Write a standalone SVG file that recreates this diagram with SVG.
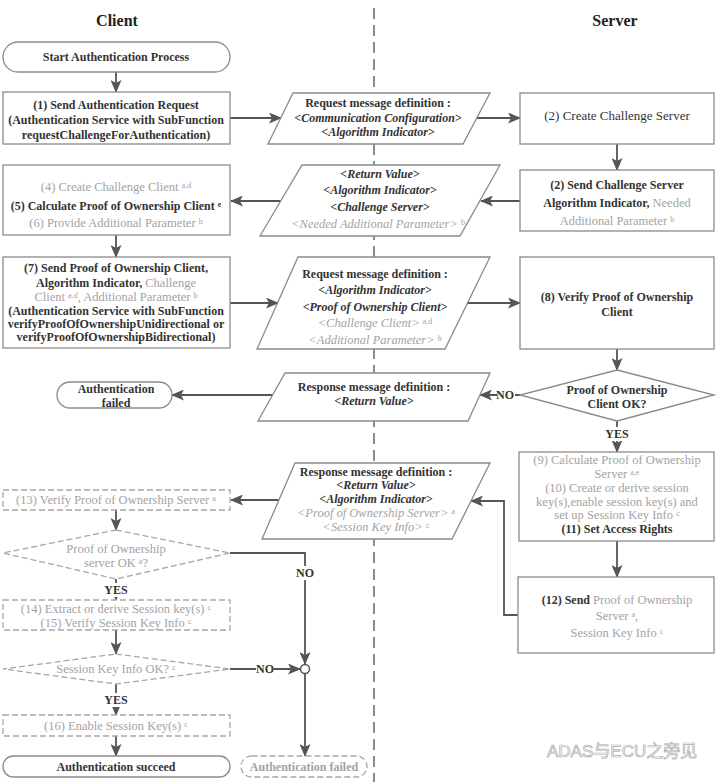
<svg xmlns="http://www.w3.org/2000/svg" width="720" height="782" viewBox="0 0 720 782">
<style>
.t{font-family:"Liberation Serif","DejaVu Serif",serif;font-size:12px;fill:#333;font-weight:bold;text-anchor:middle}
.h{font-size:16px;fill:#222}
.g{fill:#a3a3a3;font-weight:normal;font-size:12.5px}
.gb{fill:#a3a3a3}
.it{font-style:italic}
.n{font-weight:normal;font-size:13px}
.sup{font-size:8px;baseline-shift:3px}
.box{fill:#fff;stroke:#8a8a8a;stroke-width:1.3}
.dbox{fill:#fff;stroke:#a8a8a8;stroke-width:1.3;stroke-dasharray:6 3}
.c{fill:none;stroke:#555;stroke-width:1.8}
.a{marker-end:url(#ah)}
.bg{fill:#fff}
</style>
<defs>
<marker id="ah" markerUnits="userSpaceOnUse" markerWidth="13" markerHeight="11" refX="12" refY="5.5" orient="auto">
<path d="M0,0 L13,5.5 L0,11 L3,5.5 Z" fill="#555"/>
</marker>
</defs>
<rect width="720" height="782" fill="#fff"/>
<text class="t h" x="117" y="26">Client</text>
<text class="t h" x="615" y="26">Server</text>
<line x1="374" y1="8" x2="374" y2="782" stroke="#666" stroke-width="1.5" stroke-dasharray="11 6"/>

<g id="connectors">
<line class="c a" x1="116" y1="72" x2="116" y2="92"/>
<line class="c a" x1="230" y1="118" x2="281" y2="118"/>
<line class="c a" x1="477" y1="118" x2="520" y2="118"/>
<line class="c a" x1="617" y1="144" x2="617" y2="170"/>
<line class="c a" x1="520" y1="201" x2="481" y2="201"/>
<line class="c a" x1="281" y1="201" x2="231" y2="201"/>
<line class="c a" x1="116" y1="235" x2="116" y2="257"/>
<line class="c a" x1="230" y1="303" x2="278" y2="303"/>
<line class="c a" x1="467" y1="303" x2="520" y2="303"/>
<line class="c a" x1="617" y1="349" x2="617" y2="370"/>
<line class="c a" x1="520" y1="395" x2="480" y2="395"/>
<line class="c a" x1="273" y1="395" x2="172" y2="395"/>
<line class="c a" x1="617" y1="421" x2="617" y2="452"/>
<line class="c a" x1="617" y1="541" x2="617" y2="577"/>
<path class="c a" d="M518,615 H504 V501 H471"/>
<line class="c a" x1="279" y1="500" x2="231" y2="500"/>
<line class="c a" x1="116" y1="510" x2="116" y2="530"/>
<path class="c a" d="M230,553 H305 V664"/>
<line class="c a" x1="116" y1="579" x2="116" y2="600"/>
<line class="c a" x1="116" y1="630" x2="116" y2="654"/>
<line class="c a" x1="230" y1="669" x2="300" y2="669"/>
<line class="c a" x1="116" y1="684" x2="116" y2="715"/>
<line class="c a" x1="116" y1="736" x2="116" y2="756"/>
<line class="c a" x1="305" y1="674" x2="305" y2="756"/>
<circle cx="305" cy="669" r="4.5" fill="#fff" stroke="#555" stroke-width="1.5"/>
<rect class="bg" x="497" y="388" width="18" height="14"/>
<text class="t" x="505" y="399">NO</text>
<rect class="bg" x="603" y="427" width="28" height="14"/>
<text class="t" x="617" y="438">YES</text>
<rect class="bg" x="296" y="566" width="18" height="14"/>
<text class="t" x="305" y="577">NO</text>
<rect class="bg" x="102" y="583" width="28" height="14"/>
<text class="t" x="116" y="594">YES</text>
<rect class="bg" x="256" y="662" width="18" height="14"/>
<text class="t" x="265" y="673">NO</text>
<rect class="bg" x="102" y="693" width="28" height="14"/>
<text class="t" x="116" y="704">YES</text>
</g>

<g id="start">
<rect class="box" x="3" y="42" width="227" height="30" rx="15"/>
<text class="t" x="116" y="61">Start Authentication Process</text>
</g>
<g id="step1">
<rect class="box" x="3" y="92" width="227" height="52"/>
<text class="t" x="116" y="109">(1) Send Authentication Request</text>
<text class="t" x="116" y="124">(Authentication Service with SubFunction</text>
<text class="t" x="116" y="139">requestChallengeForAuthentication)</text>
</g>
<g id="msg1">
<polygon class="box" points="293,93 490,93 463,144 268,144"/>
<text class="t" x="378" y="107">Request message definition :</text>
<text class="t it" x="378" y="122">&lt;Communication Configuration&gt;</text>
<text class="t it" x="378" y="136">&lt;Algorithm Indicator&gt;</text>
</g>
<g id="step2a">
<rect class="box" x="520" y="93" width="194" height="51"/>
<text class="t n" x="617" y="120">(2) Create Challenge Server</text>
</g>
<g id="step2b">
<rect class="box" x="520" y="170" width="194" height="61"/>
<text class="t" x="617" y="189">(2) Send Challenge Server</text>
<text class="t" x="617" y="207">Algorithm Indicator, <tspan class="g">Needed</tspan></text>
<text class="t g" x="617" y="225">Additional Parameter <tspan class="sup">b</tspan></text>
</g>
<g id="msg2">
<polygon class="box" points="302,165 500,165 460,236 260,236"/>
<text class="t it" x="380" y="178">&lt;Return Value&gt;</text>
<text class="t it" x="380" y="194">&lt;Algorithm Indicator&gt;</text>
<text class="t it" x="380" y="211">&lt;Challenge Server&gt;</text>
<text class="t it g" x="378" y="228">&lt;Needed Additional Parameter&gt; <tspan class="sup" font-style="normal">b</tspan></text>
</g>
<g id="step456">
<rect class="box" x="3" y="165" width="227" height="70"/>
<text class="t g" x="116" y="191">(4) Create Challenge Client <tspan class="sup">a,d</tspan></text>
<text class="t" x="116" y="210">(5) Calculate Proof of Ownership Client <tspan class="sup">e</tspan></text>
<text class="t g" x="116" y="227">(6) Provide Additional Parameter <tspan class="sup">b</tspan></text>
</g>
<g id="step7">
<rect class="box" x="3" y="257" width="227" height="91"/>
<text class="t" x="116" y="272">(7) Send Proof of Ownership Client,</text>
<text class="t" x="116" y="287">Algorithm Indicator, <tspan class="g">Challenge</tspan></text>
<text class="t g" x="116" y="301">Client <tspan class="sup">a,d</tspan>, Additional Parameter <tspan class="sup">b</tspan></text>
<text class="t" x="116" y="315">(Authentication Service with SubFunction</text>
<text class="t" x="116" y="328">verifyProofOfOwnershipUnidirectional or</text>
<text class="t" x="116" y="341">verifyProofOfOwnershipBidirectional)</text>
</g>
<g id="msg3">
<polygon class="box" points="298,257 490,257 445,349 257,349"/>
<text class="t" x="375" y="278">Request  message definition :</text>
<text class="t it" x="375" y="294">&lt;Algorithm Indicator&gt;</text>
<text class="t it" x="375" y="311">&lt;Proof of Ownership Client&gt;</text>
<text class="t it g" x="375" y="327">&lt;Challenge Client&gt; <tspan class="sup" font-style="normal">a,d</tspan></text>
<text class="t it g" x="375" y="344">&lt;Additional Parameter&gt; <tspan class="sup" font-style="normal">b</tspan></text>
</g>
<g id="step8">
<rect class="box" x="520" y="257" width="194" height="92"/>
<text class="t" x="617" y="301">(8) Verify Proof of Ownership</text>
<text class="t" x="617" y="316">Client</text>
</g>
<g id="dec1">
<polygon class="box" points="617,370 714,395 617,421 520,395"/>
<text class="t" x="617" y="394">Proof of  Ownership</text>
<text class="t" x="617" y="408">Client OK?</text>
</g>
<g id="msg4">
<polygon class="box" points="285,373 490,373 468,421 258,421"/>
<text class="t" x="374" y="391">Response message definition :</text>
<text class="t it" x="374" y="405">&lt;Return Value&gt;</text>
</g>
<g id="fail1">
<rect class="box" x="57" y="382" width="115" height="26" rx="13"/>
<text class="t" x="116" y="393">Authentication</text>
<text class="t" x="116" y="407">failed</text>
</g>
<g id="step9_11">
<rect class="box" x="519" y="452" width="195" height="89"/>
<text class="t g" x="617" y="464">(9) Calculate Proof of Ownership</text>
<text class="t g" x="617" y="478">Server <tspan class="sup">a,e</tspan></text>
<text class="t g" x="617" y="492">(10) Create or derive session</text>
<text class="t g" x="617" y="506">key(s),enable session key(s) and</text>
<text class="t g" x="617" y="519">set up Session Key Info <tspan class="sup">c</tspan></text>
<text class="t" x="617" y="533">(11) Set Access Rights</text>
</g>
<g id="step12">
<rect class="box" x="518" y="577" width="196" height="76"/>
<text class="t" x="617" y="604">(12)  Send <tspan class="g">Proof of Ownership</tspan></text>
<text class="t g" x="617" y="620">Server <tspan class="sup">a</tspan>,</text>
<text class="t g" x="617" y="637">Session Key Info <tspan class="sup">c</tspan></text>
</g>
<g id="msg5">
<polygon class="box" points="295,463 490,463 452,539 262,539"/>
<text class="t" x="376" y="476">Response message definition :</text>
<text class="t it" x="376" y="489">&lt;Return Value&gt;</text>
<text class="t it" x="376" y="503">&lt;Algorithm Indicator&gt;</text>
<text class="t it g" x="376" y="517">&lt;Proof of Ownership Server&gt; <tspan class="sup" font-style="normal">a</tspan></text>
<text class="t it g" x="376" y="531">&lt;Session Key Info&gt; <tspan class="sup" font-style="normal">c</tspan></text>
</g>
<g id="step13">
<rect class="dbox" x="3" y="490" width="227" height="20"/>
<text class="t g" x="116" y="504">(13) Verify Proof of Ownership Server <tspan class="sup">a</tspan></text>
</g>
<g id="dec2">
<polygon class="dbox" points="116,530 230,553 116,579 3,553"/>
<text class="t g" x="116" y="553">Proof of Ownership</text>
<text class="t g" x="116" y="567">server OK <tspan class="sup">a</tspan>?</text>
</g>
<g id="step14_15">
<rect class="dbox" x="3" y="600" width="227" height="30"/>
<text class="t g" x="116" y="613">(14) Extract or derive Session key(s) <tspan class="sup">c</tspan></text>
<text class="t g" x="116" y="627">(15) Verify Session Key Info <tspan class="sup">c</tspan></text>
</g>
<g id="dec3">
<polygon class="dbox" points="116,654 230,669 116,684 3,669"/>
<text class="t g" x="116" y="673">Session Key Info OK? <tspan class="sup">c</tspan></text>
</g>
<g id="step16">
<rect class="dbox" x="3" y="715" width="227" height="21"/>
<text class="t g" x="116" y="730">(16) Enable Session Key(s) <tspan class="sup">c</tspan></text>
</g>
<g id="success">
<rect class="box" x="3" y="756" width="227" height="21" rx="10.5"/>
<text class="t" x="116" y="771">Authentication succeed</text>
</g>
<g id="fail2">
<rect class="dbox" x="241" y="756" width="126" height="21" rx="10.5"/>
<text class="t gb" x="304" y="771">Authentication failed</text>
</g>
<text x="547" y="757" font-family="'Liberation Sans','Noto Sans CJK SC',sans-serif" font-size="17" fill="#fff" stroke="#aaa" stroke-width="0.7">ADAS与ECU之旁见</text>
</svg>
